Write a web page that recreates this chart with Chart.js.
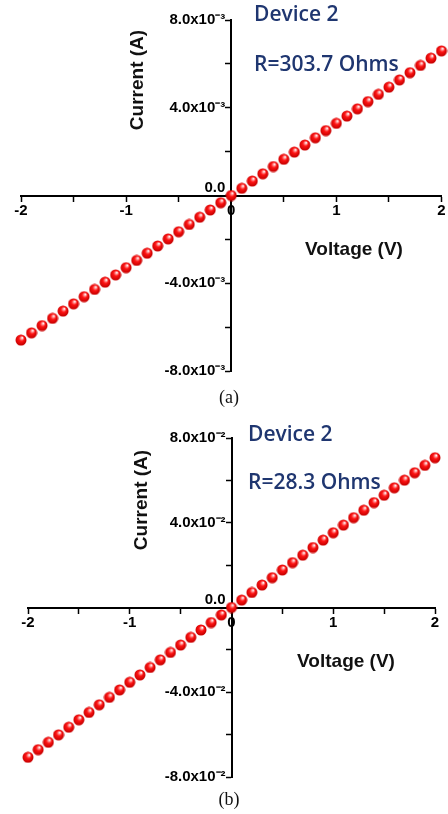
<!DOCTYPE html>
<html>
<head>
<meta charset="utf-8">
<script src="https://cdn.jsdelivr.net/npm/chart.js@4.4.1/dist/chart.umd.min.js"></script>
<style>
  html, body { margin: 0; padding: 0; background: #fff; }
  body { width: 448px; height: 814px; position: relative; overflow: hidden; }
  .box { position: absolute; left: 0; width: 448px; }
  .cap { position: absolute; width: 448px; left: 0; text-align: center;
         font-family: "Liberation Serif", "Times New Roman", serif; font-size: 18px; color: #111; }
</style>
</head>
<body>
<div class="box" style="top:0;height:392px"><canvas id="chartA"></canvas></div>
<div class="cap" style="top:387px;left:5px">(a)</div>
<div class="box" style="top:410px;height:385px"><canvas id="chartB"></canvas></div>
<div class="cap" style="top:789px;left:5px">(b)</div>

<script>
// voltage sweep (V)
const voltages = [-2.0, -1.9, -1.8, -1.7, -1.6, -1.5, -1.4, -1.3, -1.2, -1.1, -1.0,
                  -0.9, -0.8, -0.7, -0.6, -0.5, -0.4, -0.3, -0.2, -0.1, 0.0,
                  0.1, 0.2, 0.3, 0.4, 0.5, 0.6, 0.7, 0.8, 0.9, 1.0,
                  1.1, 1.2, 1.3, 1.4, 1.5, 1.6, 1.7, 1.8, 1.9, 2.0];

// (a) Device 2, R = 303.7 Ohms, current in A
const currentA = [-6.59e-3, -6.26e-3, -5.93e-3, -5.60e-3, -5.27e-3, -4.94e-3, -4.61e-3, -4.28e-3, -3.95e-3, -3.62e-3, -3.29e-3,
                  -2.96e-3, -2.63e-3, -2.30e-3, -1.98e-3, -1.65e-3, -1.32e-3, -0.99e-3, -0.66e-3, -0.33e-3, 0.0,
                  0.33e-3, 0.66e-3, 0.99e-3, 1.32e-3, 1.65e-3, 1.98e-3, 2.30e-3, 2.63e-3, 2.96e-3, 3.29e-3,
                  3.62e-3, 3.95e-3, 4.28e-3, 4.61e-3, 4.94e-3, 5.27e-3, 5.60e-3, 5.93e-3, 6.26e-3, 6.59e-3];

// (b) Device 2, R = 28.3 Ohms, current in A
const currentB = [-7.07e-2, -6.71e-2, -6.36e-2, -6.01e-2, -5.65e-2, -5.30e-2, -4.95e-2, -4.59e-2, -4.24e-2, -3.89e-2, -3.53e-2,
                  -3.18e-2, -2.83e-2, -2.47e-2, -2.12e-2, -1.77e-2, -1.41e-2, -1.06e-2, -0.71e-2, -0.35e-2, 0.0,
                  0.35e-2, 0.71e-2, 1.06e-2, 1.41e-2, 1.77e-2, 2.12e-2, 2.47e-2, 2.83e-2, 3.18e-2, 3.53e-2,
                  3.89e-2, 4.24e-2, 4.59e-2, 4.95e-2, 5.30e-2, 5.65e-2, 6.01e-2, 6.36e-2, 6.71e-2, 7.07e-2];

const xTickLabels = ['-2', '-1', '0', '1', '2'];
const titleA = ['Device 2', 'R=303.7 Ohms'];
const titleB = ['Device 2', 'R=28.3 Ohms'];

// shiny red ball used as point marker
function makeBall(r) {
  const c = document.createElement('canvas');
  c.width = c.height = r * 2 + 1;
  const g = c.getContext('2d');
  const grd = g.createRadialGradient(r * 1.35, r * 0.65, 0.3, r, r, r);
  grd.addColorStop(0, '#ffffff');
  grd.addColorStop(0.18, '#ff9a9a');
  grd.addColorStop(0.45, '#ff1414');
  grd.addColorStop(1, '#c80000');
  g.fillStyle = grd;
  g.beginPath();
  g.arc(r + 0.5, r + 0.5, r, 0, Math.PI * 2);
  g.fill();
  return c;
}
const ball = makeBall(5.5);

const supers = { '-': '\u207B', '2': '\u00B2', '3': '\u00B3' };

// free text on the plot (axis titles placed inside, device notes)
const textPlugin = {
  id: 'texts',
  afterDraw(chart, args, opts) {
    const ctx = chart.ctx;
    opts.items.forEach(t => {
      ctx.save();
      ctx.font = t.font;
      ctx.fillStyle = t.color;
      ctx.textBaseline = 'middle';
      ctx.textAlign = t.align || 'left';
      ctx.translate(t.x, t.y);
      if (t.rotate) ctx.rotate(t.rotate);
      ctx.fillText(t.text, 0, 0);
      ctx.restore();
    });
  }
};

function makeChart(id, ys, exp, step, pad, texts) {
  const ctx = document.getElementById(id);
  const sup = String(exp).split('').map(ch => supers[ch]).join('');
  const unit = Math.pow(10, exp);
  return new Chart(ctx, {
    type: 'scatter',
    data: {
      datasets: [{
        data: voltages.map((v, i) => ({ x: v, y: ys[i] })),
        pointStyle: ball,
        pointRadius: 5.5,
        showLine: false,
        clip: false
      }]
    },
    options: {
      responsive: true,
      maintainAspectRatio: false,
      animation: false,
      events: [],
      layout: { padding: pad },
      plugins: {
        legend: { display: false },
        tooltip: { enabled: false },
        texts: { items: texts }
      },
      scales: {
        x: {
          type: 'linear',
          min: -2, max: 2,
          position: 'center',
          border: { display: true, color: '#000', width: 2 },
          grid: { display: true, drawOnChartArea: false, drawTicks: true, tickLength: 5, color: '#000', tickWidth: 1.5 },
          ticks: {
            stepSize: 0.5,
            autoSkip: false,
            maxRotation: 0,
            padding: 1,
            color: '#000',
            font: { family: 'Liberation Sans, Arial, sans-serif', size: 15, weight: 'bold' },
            callback: (v) => {
              const k = Math.round(v);
              return Math.abs(v - k) < 1e-6 ? xTickLabels[k + 2] : '';
            }
          }
        },
        y: {
          type: 'linear',
          min: -2 * step, max: 2 * step,
          position: 'center',
          border: { display: true, color: '#000', width: 2 },
          grid: { display: true, drawOnChartArea: false, drawTicks: true, tickLength: 5, color: '#000', tickWidth: 1.5 },
          ticks: {
            stepSize: step / 2,
            autoSkip: false,
            padding: 1,
            color: '#000',
            font: { family: 'Liberation Sans, Arial, sans-serif', size: 15, weight: 'bold', lineHeight: 1.0 },
            callback: (v) => {
              const k = Math.round(v / step);
              if (Math.abs(v / step - k) > 1e-6) return '';
              if (k === 0) return ['0.0', ''];
              return (v / unit).toFixed(1) + 'x10' + sup;
            }
          }
        }
      }
    },
    plugins: [textPlugin]
  });
}

const axisFont = 'bold 19px "Liberation Sans", Arial, sans-serif';
const noteFont = '600 21px "Open Sans", sans-serif';
const navy = '#1f3670';

makeChart('chartA', currentA, -3, 4e-3, { left: 21, right: 5, top: 20, bottom: 21 }, [
  { text: 'Current (A)', x: 138, y: 80, rotate: -Math.PI / 2, align: 'center', font: axisFont, color: '#111' },
  { text: 'Voltage (V)', x: 354, y: 250, align: 'center', font: axisFont, color: '#111' },
  { text: titleA[0], x: 254, y: 15, font: noteFont, color: navy },
  { text: titleA[1], x: 254, y: 65, font: noteFont, color: navy }
]);

makeChart('chartB', currentB, -2, 4e-2, { left: 28, right: 13, top: 28, bottom: 18 }, [
  { text: 'Current (A)', x: 142, y: 90, rotate: -Math.PI / 2, align: 'center', font: axisFont, color: '#111' },
  { text: 'Voltage (V)', x: 346, y: 252, align: 'center', font: axisFont, color: '#111' },
  { text: titleB[0], x: 248, y: 25, font: noteFont, color: navy },
  { text: titleB[1], x: 248, y: 73, font: noteFont, color: navy }
]);
</script>
</body>
</html>
